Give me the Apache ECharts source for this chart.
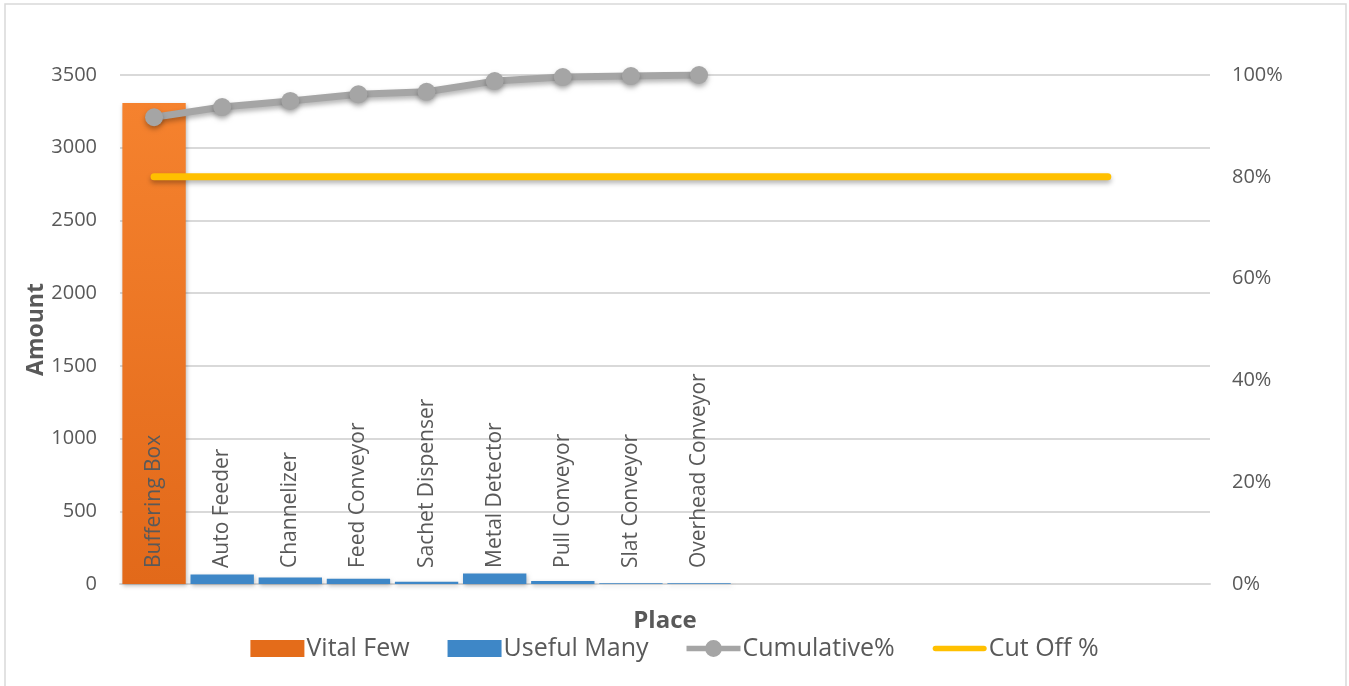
<!DOCTYPE html>
<html>
<head>
<meta charset="utf-8">
<title>Pareto – Place</title>
<script src="https://cdn.jsdelivr.net/npm/echarts@6/dist/echarts.min.js"></script>
<style>
  html, body { margin: 0; padding: 0; background: #ffffff; }
  #chart { width: 1349px; height: 686px; }
</style>
</head>
<body>
<div id="chart"></div>
<script>
// Places in Pareto order; trailing blanks keep the empty slots on the category axis
const places = ['Buffering Box', 'Auto Feeder', 'Channelizer', 'Feed Conveyor', 'Sachet Dispenser',
  'Metal Detector', 'Pull Conveyor', 'Slat Conveyor', 'Overhead Conveyor',
  '', '', '', '', '', '', ''];

// Amounts (left axis)
const vitalFew = [3307, '-', '-', '-', '-', '-', '-', '-', '-', '-', '-', '-', '-', '-', '-', '-'];
const usefulMany = ['-', 66, 44, 36, 15, 72, 20, 6, 5, '-', '-', '-', '-', '-', '-', '-'];

// Cumulative share (right axis, 0..1)
const cumulative = [0.917, 0.937, 0.949, 0.962, 0.967, 0.988, 0.996, 0.998, 1.0];

// Cut-off share
const cutOff = [0.8, 0.8, 0.8, 0.8, 0.8, 0.8, 0.8, 0.8, 0.8, 0.8, 0.8, 0.8, 0.8, 0.8, 0.8];

// Axis ticks
const amountTicks = { min: 0, max: 3500, interval: 500 };
const shareTicks = { min: 0, max: 1, interval: 0.2 };

const FONT = 'Open Sans';
const TEXT = '#595959';
const GRID = '#d9d9d9';

// Legend glyphs: thick line with a dot, and a plain rounded thick line
const ICON_LINE_DOT = 'path://M0,6H21V12H0Z M37,6H58V12H37Z M20,9A9,9 0 1,1 38,9A9,9 0 1,1 20,9Z';
const ICON_LINE = 'path://M3,0H55A3,3 0 0,1 55,6H3A3,3 0 0,1 3,0Z';

const chart = echarts.init(document.getElementById('chart'), null, { renderer: 'canvas' });

const placeLabel = {
  show: true,
  position: 'insideBottom',
  rotate: 90,
  align: 'left',
  verticalAlign: 'middle',
  distance: 16,
  formatter: p => p.name,
  color: TEXT,
  fontFamily: FONT,
  fontSize: 21
};

const barShadow = {
  shadowColor: 'rgba(0,0,0,0.25)',
  shadowBlur: 4,
  shadowOffsetX: 1,
  shadowOffsetY: 2
};

chart.setOption({
  backgroundColor: '#ffffff',
  animation: false,
  textStyle: { fontFamily: FONT },
  graphic: [{
    type: 'rect',
    shape: { x: 5, y: 4, width: 1341, height: 700 },
    style: { fill: 'none', stroke: '#d9d9d9', lineWidth: 1.5 },
    silent: true,
    z: -10
  }],
  grid: { left: 120, right: 139, top: 75, bottom: 102 },
  legend: {
    top: 631,
    left: 'center',
    itemWidth: 54,
    itemHeight: 17,
    itemGap: 38,
    textStyle: { color: TEXT, fontFamily: FONT, fontSize: 25, padding: [0, 0, 0, -3] },
    data: [
      { name: 'Vital Few', icon: 'rect', itemStyle: { color: '#E46C1A' } },
      { name: 'Useful Many', icon: 'rect' },
      { name: 'Cumulative%', icon: ICON_LINE_DOT },
      { name: 'Cut Off %', icon: ICON_LINE }
    ]
  },
  xAxis: {
    type: 'category',
    data: places,
    name: 'Place',
    nameLocation: 'middle',
    nameGap: 25,
    nameTextStyle: { color: TEXT, fontFamily: FONT, fontSize: 24, fontWeight: 'bold' },
    axisLine: { show: true, lineStyle: { color: GRID, width: 2 } },
    axisTick: { show: false },
    axisLabel: { show: false },
    splitLine: { show: false }
  },
  yAxis: [{
    type: 'value',
    min: amountTicks.min,
    max: amountTicks.max,
    interval: amountTicks.interval,
    name: 'Amount',
    nameLocation: 'middle',
    nameGap: 72,
    nameMoveOverlap: false,
    nameRotate: 90,
    nameTextStyle: { color: TEXT, fontFamily: FONT, fontSize: 23, fontWeight: 'bold' },
    axisLine: { show: false },
    axisTick: { show: false },
    axisLabel: { color: TEXT, fontFamily: FONT, fontSize: 20, margin: 23, formatter: v => String(v) },
    splitLine: { show: true, lineStyle: { color: GRID, width: 2 } }
  }, {
    type: 'value',
    min: shareTicks.min,
    max: shareTicks.max,
    interval: shareTicks.interval,
    position: 'right',
    axisLine: { show: false },
    axisTick: { show: false },
    axisLabel: {
      color: TEXT, fontFamily: FONT, fontSize: 20, margin: 22,
      formatter: v => Math.round(v * 100) + '%'
    },
    splitLine: { show: false }
  }],
  series: [{
    name: 'Vital Few',
    type: 'bar',
    stack: 'amount',
    data: vitalFew,
    barWidth: '93%',
    itemStyle: Object.assign({
      color: new echarts.graphic.LinearGradient(0, 0, 0, 1, [
        { offset: 0, color: '#F5822E' },
        { offset: 1, color: '#E2691A' }
      ])
    }, barShadow),
    label: placeLabel,
    z: 2
  }, {
    name: 'Useful Many',
    type: 'bar',
    stack: 'amount',
    data: usefulMany,
    barWidth: '93%',
    itemStyle: Object.assign({ color: '#3E87C7' }, barShadow),
    label: placeLabel,
    z: 2
  }, {
    name: 'Cumulative%',
    type: 'line',
    yAxisIndex: 1,
    data: cumulative,
    symbol: 'circle',
    symbolSize: 18,
    lineStyle: {
      color: '#A5A5A5', width: 7,
      shadowColor: 'rgba(0,0,0,0.3)', shadowBlur: 5, shadowOffsetY: 3
    },
    itemStyle: {
      color: '#A5A5A5',
      shadowColor: 'rgba(0,0,0,0.3)', shadowBlur: 5, shadowOffsetY: 3
    },
    z: 4
  }, {
    name: 'Cut Off %',
    type: 'line',
    yAxisIndex: 1,
    data: cutOff,
    symbol: 'none',
    lineStyle: {
      color: '#FFC000', width: 7, cap: 'round',
      shadowColor: 'rgba(0,0,0,0.3)', shadowBlur: 5, shadowOffsetY: 3
    },
    itemStyle: { color: '#FFC000' },
    z: 3
  }]
});
</script>
</body>
</html>
